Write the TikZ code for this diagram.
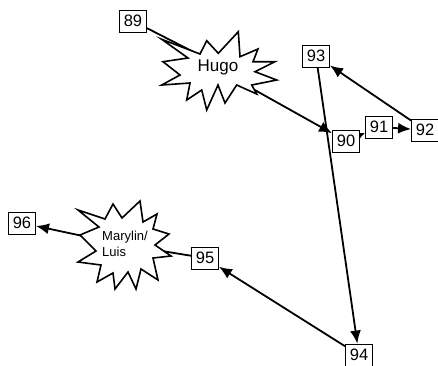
\documentclass[tikz,border=0pt]{standalone}
\usepackage{fontspec}
\setmainfont{Liberation Sans}
\usetikzlibrary{arrows.meta}
\pgfdeclarelayer{bg}
\pgfsetlayers{bg,main}
\begin{document}
\begin{tikzpicture}[x=1pt,y=-1pt,
  numbox/.style={draw, line width=0.9pt, fill=white, minimum width=27pt, minimum height=22pt, inner sep=0pt, font=\fontsize{16.5}{16.5}\selectfont},
  conn/.style={line width=1.8pt},
  arr/.style={conn, -{Latex[length=13pt,width=11pt]}},
  burst/.style={draw, line width=1.6pt, fill=white, line join=miter},
  lbl/.style={inner sep=0pt}]
\useasboundingbox (0,0) rectangle (438,365);
% stars
\draw[burst] (161.7,39.3) -- (200,54) -- (206.7,40.7) -- (218.3,53.3) -- (238.3,31.7) -- (240,56.7) -- (258,49) -- (253,61.7) -- (275,61.7) -- (255,71.7) -- (276.7,80) -- (251.7,85) -- (256.7,94) -- (236.7,85) -- (225,103) -- (218,85) -- (206.7,110) -- (201.7,90) -- (186.7,100) -- (190,83) -- (161.7,85) -- (180,75) -- (163,61.7) -- (188,58) -- cycle;
\draw[burst] (140,201) -- (143,222) -- (157,214) -- (153,229) -- (169,234) -- (155,245) -- (171,256) -- (153,258) -- (158,280) -- (141,269) -- (136,289) -- (128,272) -- (115,289) -- (113,273) -- (97,282) -- (101,265) -- (78,262) -- (96,251) -- (80,235) -- (99,227) -- (78,210) -- (105,219) -- (113,204) -- (122,218) -- cycle;
% texts
\node[lbl, font=\fontsize{17}{17}\selectfont] (hugo) at (218,67) {Hugo};
\coordinate (hugoin) at (219,65);
\coordinate (hugoout) at (219,70);
\node[lbl, font=\fontsize{13}{16}\selectfont, align=left] (marylin) at (125,244) {Marylin/\\Luis};
\coordinate (mc) at (125,245);
% boxes
\node[numbox] (n89) at (133,21) {89};
\node[numbox] (n90) at (346,141) {90};
\node[numbox] (n91) at (379,127) {91};
\node[numbox] (n92) at (425,130) {92};
\node[numbox] (n93) at (316,56) {93};
\node[numbox] (n94) at (359,355) {94};
\node[numbox] (n95) at (205,258) {95};
\node[numbox] (n96) at (22,223) {96};
% connectors
\begin{pgfonlayer}{bg}
\draw[conn] (n89) -- (hugoin);
\draw[arr] (hugoout) -- (n90);
\draw[conn, -{Latex[length=8pt,width=8pt]}] (n90) -- (n91);
\draw[arr] (n91) -- (n92);
\draw[arr] (n92) -- (n93);
\draw[arr] (n93) -- (n94);
\draw[arr] (n94) -- (n95);
\draw[conn] (n95) -- (mc);
\draw[arr] (mc) -- (n96);
\end{pgfonlayer}
\end{tikzpicture}
\end{document}
